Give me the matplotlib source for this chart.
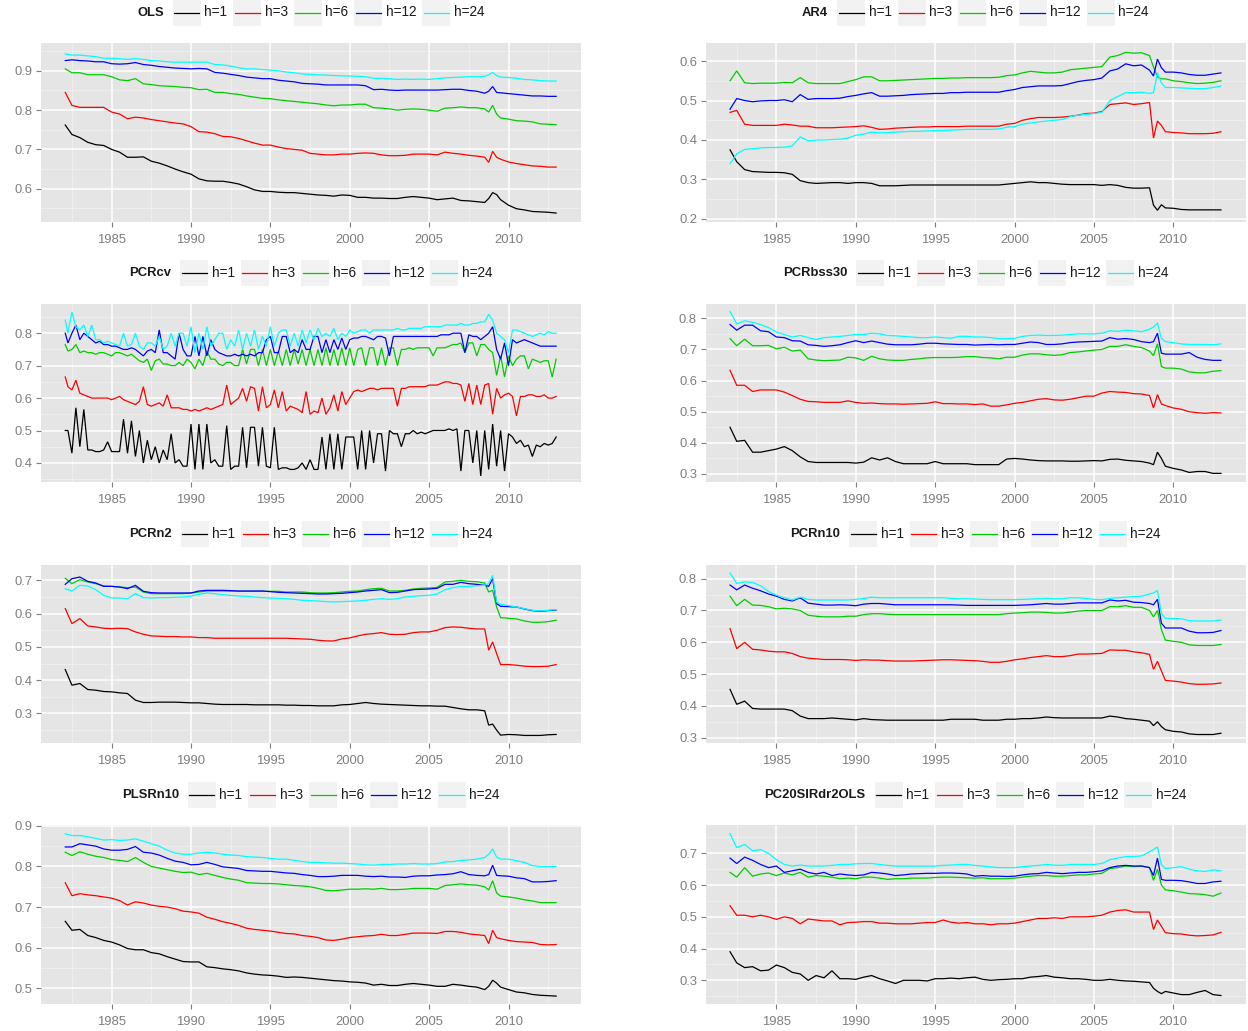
import numpy as np
import matplotlib
matplotlib.use("Agg")
import matplotlib.pyplot as plt
from matplotlib.patches import Rectangle
from matplotlib.lines import Line2D
from matplotlib.ticker import MultipleLocator, FixedLocator

# ---------------- data ----------------
horizons = ["h=1", "h=3", "h=6", "h=12", "h=24"]
colors = ["#000000", "#FF0000", "#00CD00", "#0000FF", "#00FFFF"]
x_breaks = [1985, 1990, 1995, 2000, 2005, 2010]

# semi-annual dates (plus quarter points around 2009)
t_semi = np.concatenate([[1982.08], np.arange(1982.5, 2008.51, 0.5),
                         [2008.75, 2009.0, 2009.25, 2009.5], np.arange(2010.0, 2013.01, 0.5)])
# quarterly dates (PCRcv panel)
t_quarter = np.concatenate([[1982.08], np.arange(1982.25, 2013.01, 0.25)])

# OLS
ols_h1 = [.762,.738,.730,.718,.712,.710,.700,.693,.680,.680,.681,.670,.665,
          .658,.650,.643,.637,.625,.620,.619,.619,.616,.612,.605,.597,.593,
          .593,.591,.590,.590,.588,.586,.584,.583,.581,.584,.583,.578,.578,
          .576,.576,.575,.575,.578,.580,.578,.576,.572,.574,.576,.570,.569,
          .567,.565,.575,.590,.585,.572,.558,.549,.546,.542,.541,.540,.538]
ols_h3 = [.845,.812,.807,.807,.807,.807,.795,.790,.778,.782,.780,.776,.773,
          .770,.767,.765,.758,.745,.744,.740,.733,.732,.728,.722,.716,.711,
          .711,.706,.702,.700,.698,.690,.688,.686,.686,.688,.688,.690,.691,
          .690,.686,.684,.684,.685,.688,.688,.688,.686,.693,.690,.688,.685,
          .683,.680,.667,.695,.680,.675,.668,.664,.661,.658,.657,.655,.655]
ols_h6 = [.905,.895,.895,.890,.890,.890,.885,.877,.875,.880,.867,.865,.862,
          .861,.860,.858,.857,.852,.853,.845,.845,.842,.840,.836,.833,.830,
          .829,.826,.824,.822,.820,.818,.816,.813,.811,.813,.813,.815,.815,
          .806,.805,.803,.800,.802,.803,.802,.800,.797,.805,.806,.808,.806,
          .806,.803,.795,.812,.790,.780,.777,.773,.772,.770,.765,.764,.763]
ols_h12 = [.926,.928,.926,.925,.923,.923,.918,.917,.918,.921,.916,.914,.911,
           .909,.907,.906,.905,.906,.905,.896,.894,.891,.888,.884,.882,.880,
           .880,.876,.874,.872,.868,.867,.866,.864,.864,.864,.864,.864,.862,
           .852,.853,.851,.850,.851,.851,.851,.851,.851,.852,.853,.853,.850,
           .848,.843,.848,.860,.845,.844,.842,.840,.838,.836,.836,.835,.835]
ols_h24 = [.943,.940,.940,.938,.936,.932,.932,.931,.929,.931,.929,.926,.925,
           .923,.922,.922,.922,.922,.922,.916,.915,.912,.908,.905,.905,.903,
           .902,.900,.897,.895,.892,.891,.890,.889,.888,.887,.887,.886,.885,
           .881,.881,.880,.878,.879,.878,.879,.878,.880,.882,.883,.884,.885,
           .885,.886,.890,.896,.888,.884,.883,.881,.878,.877,.875,.874,.874]

# AR4
ar4_h1 = [.375,.345,.325,.320,.319,.318,.318,.317,.313,.297,.292,.290,.291,
          .292,.292,.290,.292,.292,.290,.284,.284,.284,.285,.286,.286,.286,
          .286,.286,.286,.286,.286,.286,.286,.286,.286,.288,.290,.292,.294,
          .292,.292,.290,.288,.287,.287,.287,.287,.285,.287,.285,.280,.278,
          .278,.279,.235,.222,.236,.228,.227,.224,.223,.223,.223,.223,.223]
ar4_h3 = [.470,.475,.440,.437,.437,.437,.437,.440,.438,.435,.435,.431,.431,
          .431,.432,.433,.434,.436,.432,.427,.428,.430,.431,.432,.433,.433,
          .434,.434,.434,.434,.435,.435,.435,.435,.435,.440,.442,.450,.454,
          .457,.457,.457,.458,.460,.463,.467,.468,.472,.490,.492,.494,.490,
          .492,.495,.405,.448,.437,.421,.419,.418,.416,.416,.416,.417,.421]
ar4_h6 = [.550,.575,.545,.543,.544,.544,.544,.546,.545,.558,.545,.543,.543,
          .543,.543,.548,.553,.560,.560,.550,.550,.551,.552,.553,.554,.555,
          .556,.556,.557,.557,.558,.558,.558,.558,.559,.563,.565,.570,.574,
          .572,.570,.570,.572,.578,.580,.582,.584,.586,.610,.614,.622,.620,
          .621,.614,.585,.560,.555,.555,.550,.548,.545,.543,.544,.546,.550]
ar4_h12 = [.478,.505,.500,.497,.499,.500,.500,.502,.497,.515,.503,.505,.505,
           .505,.506,.510,.513,.517,.520,.511,.511,.512,.513,.515,.516,.517,
           .518,.518,.520,.520,.521,.521,.521,.521,.521,.525,.528,.533,.535,
           .537,.537,.537,.538,.543,.548,.551,.553,.557,.575,.580,.593,.588,
           .590,.577,.562,.605,.583,.572,.572,.570,.566,.564,.564,.567,.570]
ar4_h24 = [.340,.365,.376,.378,.380,.381,.381,.382,.385,.408,.398,.400,.400,
           .401,.402,.405,.412,.415,.420,.418,.419,.420,.421,.422,.422,.423,
           .424,.424,.425,.426,.427,.427,.427,.427,.428,.432,.434,.440,.443,
           .446,.448,.450,.452,.459,.463,.465,.467,.470,.500,.510,.520,.520,
           .521,.518,.520,.570,.545,.533,.533,.532,.531,.530,.530,.533,.537]

# PCRcv (quarterly)
pcrcv_h1 = [.50,.50,.43,.57, .45,.565,.44,.44, .435,.435,.44,.465, .435,.435,.435,.535,
            .43,.53,.42,.50, .40,.47,.41,.45, .40,.44,.41,.49, .40,.41,.39,.39,
            .52,.38,.52,.38, .52,.40,.41,.39, .39,.515,.38,.39, .39,.51,.385,.51,
            .51,.39,.51,.39, .385,.51,.38,.385, .385,.38,.38,.385, .40,.38,.41,.38,
            .38,.48,.38,.49, .38,.49,.38,.48, .48,.48,.38,.50, .38,.50,.40,.49,
            .49,.375,.50,.49, .49,.45,.49,.49, .50,.49,.495,.49, .495,.50,.50,.50,
            .50,.505,.50,.505, .375,.50,.50,.40, .50,.36,.50,.38, .52,.39,.50,.375,
            .49,.48,.46,.47, .45,.455,.42,.455, .45,.46,.455,.46, .48]
pcrcv_h3 = [.665,.635,.625,.655, .615,.61,.605,.60, .60,.60,.60,.60, .595,.60,.605,.595,
            .59,.585,.58,.59, .635,.58,.575,.58, .585,.575,.61,.57, .57,.57,.565,.565,
            .56,.565,.56,.565, .57,.565,.57,.575, .58,.64,.58,.59, .60,.63,.59,.635,
            .63,.56,.635,.57, .58,.625,.57,.62, .56,.575,.57,.565, .555,.62,.55,.56,
            .555,.60,.55,.57, .61,.56,.62,.58, .60,.62,.625,.62, .625,.63,.63,.625,
            .63,.63,.63,.63, .575,.63,.63,.635, .635,.635,.635,.635, .64,.64,.64,.645,
            .65,.65,.645,.645, .64,.59,.645,.58, .64,.58,.64,.645, .55,.63,.60,.61,
            .615,.605,.545,.605, .605,.61,.61,.605, .605,.61,.60,.60, .605]
pcrcv_h6 = [.765,.745,.75,.765, .74,.745,.74,.74, .735,.74,.74,.735, .73,.74,.74,.735,
            .73,.735,.725,.715, .71,.72,.685,.715, .72,.705,.705,.70, .70,.71,.70,.72,
            .71,.69,.72,.70, .745,.72,.72,.705, .70,.71,.71,.70, .70,.75,.705,.75,
            .75,.70,.75,.70, .75,.70,.745,.70, .75,.70,.75,.705, .75,.70,.75,.70,
            .75,.70,.755,.70, .75,.70,.755,.70, .755,.70,.75,.755, .70,.755,.755,.70,
            .755,.70,.755,.755, .70,.75,.75,.755, .75,.755,.755,.755, .755,.73,.755,.755,
            .755,.76,.765,.765, .77,.74,.77,.77, .73,.765,.765,.75, .74,.67,.73,.665,
            .73,.70,.72,.73, .73,.69,.72,.715, .71,.715,.715,.665, .72]
pcrcv_h12 = [.80,.77,.80,.825, .78,.80,.79,.78, .77,.775,.765,.765, .76,.76,.755,.75,
             .75,.755,.75,.74, .73,.745,.75,.74, .81,.74,.74,.73, .72,.80,.75,.73,
             .73,.79,.73,.79, .73,.78,.75,.74, .735,.73,.73,.735, .73,.735,.73,.735,
             .73,.74,.74,.78, .79,.74,.74,.79, .79,.74,.75,.74, .78,.75,.75,.79,
             .79,.74,.78,.74, .78,.75,.785,.75, .78,.785,.785,.79, .79,.785,.78,.79,
             .79,.785,.73,.79, .79,.79,.79,.79, .79,.79,.79,.79, .79,.79,.79,.795,
             .795,.795,.80,.80, .80,.74,.795,.79, .79,.78,.79,.80, .82,.75,.72,.77,
             .70,.78,.77,.775, .78,.775,.77,.765, .76,.76,.76,.76, .76]
pcrcv_h24 = [.84,.80,.865,.82, .81,.825,.79,.825, .78,.78,.77,.775, .77,.765,.76,.80,
             .76,.765,.80,.76, .75,.77,.77,.76, .79,.75,.76,.80, .76,.80,.80,.76,
             .82,.74,.80,.75, .82,.76,.78,.80, .80,.75,.78,.76, .81,.75,.80,.76,
             .81,.75,.79,.76, .82,.76,.80,.81, .81,.76,.80,.76, .81,.77,.81,.78,
             .815,.79,.80,.79, .815,.78,.80,.79, .81,.80,.805,.81, .81,.80,.81,.81,
             .81,.81,.81,.81, .815,.81,.81,.815, .815,.815,.815,.82, .82,.82,.82,.82,
             .825,.825,.825,.825, .83,.825,.825,.83, .83,.835,.835,.858, .84,.80,.79,.78,
             .74,.81,.81,.805, .80,.795,.79,.795, .80,.795,.805,.80, .80]

# PCRbss30
bss_h1 = [.450,.405,.408,.370,.370,.375,.380,.388,.375,.355,.340,.337,.337,
          .337,.337,.337,.335,.338,.352,.345,.352,.340,.333,.333,.333,.333,
          .340,.333,.333,.333,.333,.330,.330,.330,.330,.348,.350,.348,.345,
          .343,.342,.342,.342,.341,.341,.342,.343,.342,.347,.348,.344,.342,
          .340,.335,.330,.370,.350,.325,.318,.313,.305,.308,.308,.302,.302]
bss_h3 = [.633,.585,.585,.565,.570,.570,.570,.563,.552,.540,.533,.532,.530,
          .530,.530,.535,.530,.527,.528,.526,.525,.525,.524,.525,.526,.527,
          .532,.526,.526,.525,.525,.523,.525,.518,.518,.522,.527,.530,.535,
          .540,.542,.538,.537,.540,.545,.550,.550,.560,.565,.563,.562,.558,
          .557,.552,.512,.555,.525,.520,.512,.508,.500,.497,.495,.497,.496]
bss_h6 = [.735,.712,.733,.712,.712,.713,.702,.707,.695,.698,.670,.666,.664,
          .665,.666,.675,.673,.665,.678,.670,.666,.665,.665,.668,.670,.673,
          .674,.674,.674,.675,.677,.677,.674,.673,.670,.675,.675,.682,.686,
          .686,.683,.681,.683,.690,.692,.695,.698,.700,.710,.710,.715,.710,
          .706,.695,.680,.718,.645,.640,.640,.637,.628,.625,.625,.630,.632]
bss_h12 = [.780,.762,.778,.778,.760,.757,.740,.738,.728,.727,.715,.713,.710,
           .712,.715,.722,.728,.722,.727,.722,.717,.715,.715,.715,.717,.720,
           .720,.718,.717,.716,.716,.714,.715,.716,.715,.716,.716,.720,.724,
           .722,.716,.716,.718,.722,.724,.725,.726,.727,.738,.733,.735,.732,
           .725,.722,.725,.752,.688,.685,.685,.685,.690,.675,.668,.665,.665]
bss_h24 = [.822,.782,.792,.787,.780,.770,.756,.748,.740,.745,.738,.732,.738,
           .740,.742,.745,.748,.748,.752,.750,.745,.744,.742,.740,.738,.738,
           .740,.738,.736,.742,.742,.740,.740,.738,.735,.735,.736,.742,.745,
           .746,.745,.745,.746,.748,.750,.750,.750,.752,.760,.758,.762,.760,
           .757,.765,.772,.785,.735,.725,.722,.718,.716,.716,.716,.715,.718]

# PCRn2
n2_h1 = [.432,.385,.390,.372,.370,.366,.365,.362,.360,.340,.333,.333,.334,
         .334,.334,.333,.332,.332,.330,.328,.327,.327,.327,.327,.326,.326,
         .326,.326,.325,.325,.324,.324,.323,.323,.323,.326,.327,.330,.333,
         .330,.328,.327,.326,.325,.324,.323,.323,.322,.322,.318,.314,.311,
         .311,.308,.265,.268,.250,.235,.237,.236,.234,.234,.234,.236,.237]
n2_h3 = [.615,.570,.585,.563,.560,.556,.555,.556,.555,.545,.538,.533,.532,
         .531,.531,.530,.530,.528,.528,.526,.526,.526,.526,.526,.526,.526,
         .526,.526,.526,.525,.524,.523,.520,.518,.518,.524,.527,.533,.538,
         .540,.543,.538,.537,.538,.543,.545,.545,.550,.558,.560,.559,.556,
         .554,.554,.490,.515,.480,.447,.447,.445,.442,.441,.441,.442,.447]
n2_h6 = [.706,.690,.702,.695,.690,.683,.682,.680,.678,.680,.665,.660,.660,
         .660,.660,.660,.662,.665,.668,.668,.668,.668,.667,.667,.667,.667,
         .667,.667,.665,.665,.665,.663,.662,.662,.663,.665,.667,.668,.672,
         .675,.676,.668,.668,.670,.674,.676,.677,.679,.695,.697,.700,.697,
         .696,.692,.665,.670,.620,.588,.586,.584,.578,.574,.574,.576,.580]
n2_h12 = [.688,.705,.710,.697,.692,.682,.682,.680,.675,.685,.667,.663,.662,
          .662,.662,.662,.662,.668,.670,.670,.670,.669,.668,.668,.668,.668,
          .666,.664,.663,.662,.661,.660,.659,.659,.660,.661,.663,.665,.668,
          .670,.672,.663,.664,.668,.672,.673,.674,.676,.688,.688,.694,.690,
          .688,.685,.682,.705,.630,.622,.621,.620,.614,.609,.607,.609,.611]
n2_h24 = [.675,.668,.685,.683,.672,.655,.647,.647,.645,.660,.648,.647,.648,
          .648,.649,.650,.653,.658,.662,.660,.657,.655,.653,.652,.650,.648,
          .647,.646,.645,.643,.640,.639,.638,.636,.635,.636,.637,.638,.640,
          .643,.645,.643,.645,.650,.652,.654,.655,.659,.672,.678,.682,.682,
          .684,.685,.690,.715,.635,.628,.624,.620,.615,.610,.608,.610,.612]

# PCRn10
n10_h1 = [.452,.405,.415,.392,.390,.390,.390,.390,.385,.368,.360,.360,.360,
          .362,.360,.358,.356,.360,.357,.356,.355,.355,.355,.355,.355,.355,
          .355,.355,.358,.358,.358,.358,.355,.355,.355,.358,.358,.360,.360,
          .362,.365,.363,.362,.362,.362,.362,.362,.362,.368,.365,.360,.358,
          .355,.352,.338,.350,.335,.325,.320,.318,.312,.310,.310,.310,.314]
n10_h3 = [.643,.580,.600,.578,.576,.572,.570,.570,.565,.555,.550,.548,.546,
          .546,.546,.545,.543,.545,.544,.544,.542,.541,.541,.541,.542,.543,
          .544,.545,.545,.544,.543,.542,.540,.537,.537,.540,.545,.548,.552,
          .555,.558,.555,.555,.558,.563,.563,.564,.565,.576,.575,.575,.570,
          .567,.562,.515,.540,.510,.480,.478,.475,.470,.468,.468,.469,.472]
n10_h6 = [.745,.715,.735,.717,.716,.712,.705,.707,.705,.700,.685,.682,.680,
          .680,.680,.682,.682,.687,.690,.690,.688,.687,.687,.687,.687,.687,
          .687,.687,.687,.687,.687,.687,.687,.687,.687,.690,.692,.693,.695,
          .695,.694,.692,.692,.695,.698,.700,.700,.700,.712,.712,.715,.710,
          .710,.700,.680,.700,.640,.607,.603,.600,.592,.590,.590,.590,.593]
n10_h12 = [.780,.765,.780,.770,.762,.752,.745,.735,.730,.740,.723,.720,.717,
           .717,.718,.717,.715,.720,.722,.722,.720,.718,.718,.718,.718,.718,
           .718,.718,.718,.717,.716,.716,.716,.716,.716,.716,.716,.717,.718,
           .720,.722,.720,.720,.722,.724,.724,.724,.724,.733,.730,.732,.726,
           .725,.722,.718,.735,.660,.645,.645,.645,.635,.630,.630,.631,.637]
n10_h24 = [.818,.785,.790,.788,.778,.760,.748,.740,.733,.742,.735,.733,.733,
           .733,.733,.733,.735,.738,.742,.740,.740,.740,.740,.740,.740,.740,
           .740,.740,.738,.737,.737,.736,.735,.734,.734,.734,.734,.735,.736,
           .737,.738,.737,.737,.740,.740,.738,.735,.734,.738,.740,.742,.744,
           .745,.752,.755,.763,.690,.675,.675,.674,.668,.667,.667,.667,.670]

# PLSRn10
pls_h1 = [.665,.643,.645,.630,.625,.618,.614,.607,.598,.595,.595,.588,.585,
          .578,.572,.566,.565,.565,.553,.551,.548,.546,.543,.538,.535,.533,
          .532,.530,.527,.528,.527,.525,.523,.521,.519,.518,.516,.515,.513,
          .508,.510,.507,.507,.510,.512,.510,.508,.505,.505,.510,.508,.505,
          .503,.497,.505,.520,.513,.503,.497,.491,.489,.485,.483,.482,.481]
pls_h3 = [.760,.728,.733,.730,.728,.725,.722,.716,.705,.713,.710,.705,.702,
          .700,.696,.690,.688,.685,.675,.670,.664,.660,.655,.648,.645,.643,
          .641,.638,.635,.634,.630,.628,.625,.619,.618,.621,.625,.627,.629,
          .630,.633,.630,.630,.633,.636,.636,.636,.635,.640,.640,.638,.634,
          .632,.630,.610,.643,.625,.622,.618,.615,.614,.613,.608,.607,.608]
pls_h6 = [.835,.827,.836,.830,.825,.822,.817,.815,.812,.822,.810,.800,.796,
          .792,.788,.785,.786,.780,.783,.778,.773,.769,.766,.760,.759,.758,
          .758,.757,.755,.753,.752,.750,.746,.741,.740,.742,.744,.744,.745,
          .744,.746,.743,.743,.744,.746,.746,.746,.744,.753,.755,.757,.755,
          .754,.750,.742,.765,.735,.727,.725,.722,.718,.715,.711,.711,.711]
pls_h12 = [.848,.848,.856,.853,.850,.843,.840,.840,.842,.849,.835,.833,.828,
           .820,.813,.810,.804,.805,.810,.805,.799,.797,.795,.790,.789,.788,
           .788,.786,.784,.783,.780,.778,.775,.775,.776,.778,.778,.778,.776,
           .775,.776,.774,.774,.773,.776,.777,.777,.779,.780,.782,.787,.780,
           .778,.777,.780,.803,.778,.777,.776,.772,.770,.762,.762,.763,.765]
pls_h24 = [.880,.876,.876,.873,.869,.865,.866,.864,.865,.868,.862,.856,.850,
           .840,.833,.830,.830,.833,.835,.833,.830,.828,.827,.824,.823,.822,
           .820,.818,.818,.815,.812,.810,.810,.809,.808,.808,.807,.806,.804,
           .803,.805,.805,.806,.806,.807,.806,.806,.807,.811,.812,.815,.816,
           .818,.822,.830,.843,.823,.818,.818,.814,.810,.802,.800,.800,.800]

# PC20SIRdr2OLS
pc20_h1 = [.390,.355,.340,.343,.330,.332,.348,.340,.325,.320,.300,.315,.308,
           .330,.305,.305,.303,.310,.315,.305,.298,.290,.300,.300,.300,.298,
           .305,.305,.307,.305,.308,.310,.303,.300,.302,.303,.305,.305,.310,
           .312,.315,.310,.308,.305,.305,.303,.300,.300,.303,.300,.298,.297,
           .295,.293,.275,.265,.258,.265,.260,.255,.255,.262,.268,.255,.252]
pc20_h3 = [.535,.505,.505,.500,.505,.500,.492,.500,.495,.478,.493,.490,.487,
           .487,.475,.482,.483,.485,.485,.480,.480,.478,.478,.478,.480,.482,
           .482,.490,.483,.480,.482,.478,.478,.475,.478,.478,.480,.485,.490,
           .495,.495,.497,.495,.500,.500,.500,.502,.505,.515,.520,.522,.515,
           .515,.515,.460,.490,.470,.450,.447,.446,.442,.440,.441,.443,.451]
pc20_h6 = [.640,.625,.655,.628,.635,.638,.630,.638,.632,.640,.625,.630,.628,
           .625,.620,.622,.620,.625,.625,.622,.618,.620,.620,.622,.622,.622,
           .624,.625,.625,.624,.623,.622,.623,.620,.620,.620,.622,.625,.628,
           .630,.630,.628,.628,.630,.632,.632,.635,.637,.652,.655,.660,.658,
           .660,.655,.615,.650,.600,.585,.582,.578,.573,.572,.570,.565,.575]
pc20_h12 = [.685,.668,.688,.678,.665,.655,.660,.640,.645,.650,.640,.635,.640,
            .630,.635,.632,.630,.632,.640,.638,.635,.630,.632,.635,.636,.637,
            .637,.638,.638,.637,.635,.628,.630,.628,.628,.627,.628,.632,.635,
            .636,.640,.638,.636,.638,.640,.640,.642,.645,.655,.660,.662,.660,
            .660,.655,.630,.685,.618,.615,.615,.614,.610,.605,.605,.610,.612]
pc20_h24 = [.762,.718,.728,.708,.712,.700,.680,.665,.660,.663,.660,.660,.660,
            .662,.665,.665,.667,.668,.668,.665,.662,.660,.660,.660,.660,.660,
            .660,.662,.663,.665,.665,.662,.660,.657,.655,.655,.655,.658,.660,
            .662,.665,.663,.662,.665,.665,.665,.665,.668,.680,.685,.690,.690,
            .692,.705,.712,.720,.665,.652,.655,.658,.650,.645,.643,.648,.645]

# panels: (title, time, series, ylim, column, row)
panels = [
    ("OLS", t_semi, [ols_h1, ols_h3, ols_h6, ols_h12, ols_h24], (0.516, 0.970), 0, 0),
    ("PCRcv", t_quarter, [pcrcv_h1, pcrcv_h3, pcrcv_h6, pcrcv_h12, pcrcv_h24], (0.340, 0.890), 0, 1),
    ("PCRn2", t_semi, [n2_h1, n2_h3, n2_h6, n2_h12, n2_h24], (0.211, 0.747), 0, 2),
    ("PLSRn10", t_semi, [pls_h1, pls_h3, pls_h6, pls_h12, pls_h24], (0.462, 0.901), 0, 3),
    ("AR4", t_semi, [ar4_h1, ar4_h3, ar4_h6, ar4_h12, ar4_h24], (0.193, 0.645), 1, 0),
    ("PCRbss30", t_semi, [bss_h1, bss_h3, bss_h6, bss_h12, bss_h24], (0.273, 0.846), 1, 1),
    ("PCRn10", t_semi, [n10_h1, n10_h3, n10_h6, n10_h12, n10_h24], (0.283, 0.844), 1, 2),
    ("PC20SIRdr2OLS", t_semi, [pc20_h1, pc20_h3, pc20_h6, pc20_h12, pc20_h24], (0.226, 0.788), 1, 3),
]

# ---------------- layout / style ----------------
W, H = 1248, 1031
FONT = "Liberation Sans"
LW = 0.9
col_x = [40.7, 705.5]
panel_w = 540.0
row_top0, row_step, panel_h = 43.3, 260.7, 178.4
legend_y0 = 12.5

fig = plt.figure(figsize=(W / 100, H / 100), dpi=100)
fig.patch.set_facecolor("white")
renderer = fig.canvas.get_renderer()


def draw_legend(title, cx, cy):
    t_title = fig.text(0, 0, title, fontsize=9.4, fontweight="bold", family=FONT,
                       color="#1A1A1A", va="center", ha="left")
    labs = [fig.text(0, 0, h, fontsize=9.8, family=FONT, color="#1A1A1A",
                     va="center", ha="left") for h in horizons]
    wt = t_title.get_window_extent(renderer).width
    wl = [l.get_window_extent(renderer).width for l in labs]
    key_w, key_h = 28.0, 26.0
    g_title, g_kl, g_lk = 9.0, 3.5, 6.0
    total = wt + g_title + sum(key_w + g_kl + w for w in wl) + g_lk * (len(wl) - 1)
    x = cx - total / 2
    t_title.set_position((x / W, 1 - cy / H))
    x += wt + g_title
    for i, lab in enumerate(labs):
        fig.add_artist(Rectangle((x / W, 1 - (cy + key_h / 2) / H), key_w / W, key_h / H,
                                 transform=fig.transFigure, facecolor="#F2F2F2",
                                 edgecolor="none", zorder=0))
        fig.add_artist(Line2D([(x + 1.5) / W, (x + key_w - 1.5) / W], [1 - cy / H] * 2,
                              transform=fig.transFigure, color=colors[i], lw=LW))
        x += key_w + g_kl
        lab.set_position((x / W, 1 - cy / H))
        x += wl[i] + g_lk


for title, t, series, ylim, col, row in panels:
    top = row_top0 + row_step * row
    ax = fig.add_axes([col_x[col] / W, 1 - (top + panel_h) / H, panel_w / W, panel_h / H])
    ax.set_facecolor("#E5E5E5")
    for s in ax.spines.values():
        s.set_visible(False)
    for vals, c in zip(series, colors):
        ax.plot(t, vals, color=c, lw=LW, solid_joinstyle="miter")
    x_lo, x_hi = 1982.08, 2013.0
    pad = 0.05 * (x_hi - x_lo)
    ax.set_xlim(x_lo - pad, x_hi + pad)
    ax.set_ylim(*ylim)
    ax.xaxis.set_major_locator(FixedLocator(x_breaks))
    ax.xaxis.set_minor_locator(MultipleLocator(2.5))
    ax.yaxis.set_major_locator(MultipleLocator(0.1))
    ax.yaxis.set_minor_locator(MultipleLocator(0.05))
    ax.set_xticklabels([str(b) for b in x_breaks])
    ax.yaxis.set_major_formatter(matplotlib.ticker.FormatStrFormatter("%.1f"))
    ax.grid(which="major", color="white", lw=1.1)
    ax.grid(which="minor", color="#F2F2F2", lw=0.55)
    ax.set_axisbelow(True)
    ax.tick_params(which="major", length=3.6, width=0.8, color="#7F7F7F",
                   labelcolor="#7F7F7F", labelsize=9.4)
    ax.tick_params(axis="x", which="major", pad=5.0)
    ax.tick_params(axis="y", which="major", pad=2.5)
    ax.tick_params(which="minor", length=0)
    for lbl in ax.get_xticklabels() + ax.get_yticklabels():
        lbl.set_family(FONT)
    draw_legend(title, col_x[col] + panel_w / 2, legend_y0 + row_step * row)

fig.savefig("out.png", dpi=100, facecolor="white")
